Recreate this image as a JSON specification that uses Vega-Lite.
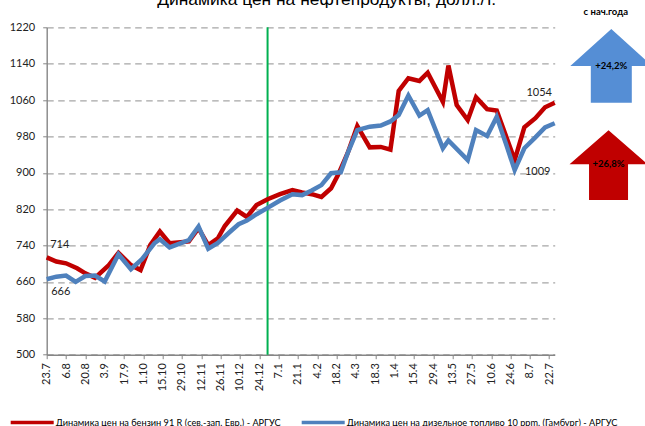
{
"$schema":"https://vega.github.io/schema/vega-lite/v6.json",
"width":508,"height":327.4,
"autosize":{"type":"none"},
"padding":{"left":46.7,"top":27.3,"right":90.3,"bottom":71.3},
"background":"white",
"config":{"view":{"stroke":null},"font":"Lato"},
"title":{"text":"Динамика цен на нефтепродукты, долл./т.","font":"Liberation Sans","fontSize":17.4,"fontWeight":"normal","color":"#000000","anchor":"middle","baseline":"alphabetic","dx":26,"offset":-16},
"datasets":{
"prices":[
{"date":"2018-07-23","series":"Динамика цен на бензин 91 R (сев.-зап. Евр.) - АРГУС","price":714},
{"date":"2018-07-30","series":"Динамика цен на бензин 91 R (сев.-зап. Евр.) - АРГУС","price":705},
{"date":"2018-08-06","series":"Динамика цен на бензин 91 R (сев.-зап. Евр.) - АРГУС","price":701},
{"date":"2018-08-14","series":"Динамика цен на бензин 91 R (сев.-зап. Евр.) - АРГУС","price":690},
{"date":"2018-08-20","series":"Динамика цен на бензин 91 R (сев.-зап. Евр.) - АРГУС","price":679},
{"date":"2018-08-27","series":"Динамика цен на бензин 91 R (сев.-зап. Евр.) - АРГУС","price":669},
{"date":"2018-09-06","series":"Динамика цен на бензин 91 R (сев.-зап. Евр.) - АРГУС","price":697},
{"date":"2018-09-13","series":"Динамика цен на бензин 91 R (сев.-зап. Евр.) - АРГУС","price":724},
{"date":"2018-09-22","series":"Динамика цен на бензин 91 R (сев.-зап. Евр.) - АРГУС","price":697},
{"date":"2018-09-29","series":"Динамика цен на бензин 91 R (сев.-зап. Евр.) - АРГУС","price":686},
{"date":"2018-10-06","series":"Динамика цен на бензин 91 R (сев.-зап. Евр.) - АРГУС","price":741},
{"date":"2018-10-13","series":"Динамика цен на бензин 91 R (сев.-зап. Евр.) - АРГУС","price":771},
{"date":"2018-10-20","series":"Динамика цен на бензин 91 R (сев.-зап. Евр.) - АРГУС","price":745},
{"date":"2018-11-03","series":"Динамика цен на бензин 91 R (сев.-зап. Евр.) - АРГУС","price":749},
{"date":"2018-11-10","series":"Динамика цен на бензин 91 R (сев.-зап. Евр.) - АРГУС","price":778},
{"date":"2018-11-17","series":"Динамика цен на бензин 91 R (сев.-зап. Евр.) - АРГУС","price":741},
{"date":"2018-11-24","series":"Динамика цен на бензин 91 R (сев.-зап. Евр.) - АРГУС","price":756},
{"date":"2018-11-29","series":"Динамика цен на бензин 91 R (сев.-зап. Евр.) - АРГУС","price":783},
{"date":"2018-12-08","series":"Динамика цен на бензин 91 R (сев.-зап. Евр.) - АРГУС","price":817},
{"date":"2018-12-15","series":"Динамика цен на бензин 91 R (сев.-зап. Евр.) - АРГУС","price":803},
{"date":"2018-12-22","series":"Динамика цен на бензин 91 R (сев.-зап. Евр.) - АРГУС","price":829},
{"date":"2018-12-30","series":"Динамика цен на бензин 91 R (сев.-зап. Евр.) - АРГУС","price":842},
{"date":"2019-01-08","series":"Динамика цен на бензин 91 R (сев.-зап. Евр.) - АРГУС","price":853},
{"date":"2019-01-17","series":"Динамика цен на бензин 91 R (сев.-зап. Евр.) - АРГУС","price":862},
{"date":"2019-01-24","series":"Динамика цен на бензин 91 R (сев.-зап. Евр.) - АРГУС","price":857},
{"date":"2019-01-31","series":"Динамика цен на бензин 91 R (сев.-зап. Евр.) - АРГУС","price":853},
{"date":"2019-02-07","series":"Динамика цен на бензин 91 R (сев.-зап. Евр.) - АРГУС","price":847},
{"date":"2019-02-14","series":"Динамика цен на бензин 91 R (сев.-зап. Евр.) - АРГУС","price":866},
{"date":"2019-02-19","series":"Динамика цен на бензин 91 R (сев.-зап. Евр.) - АРГУС","price":895},
{"date":"2019-02-26","series":"Динамика цен на бензин 91 R (сев.-зап. Евр.) - АРГУС","price":943},
{"date":"2019-03-05","series":"Динамика цен на бензин 91 R (сев.-зап. Евр.) - АРГУС","price":1003},
{"date":"2019-03-14","series":"Динамика цен на бензин 91 R (сев.-зап. Евр.) - АРГУС","price":956},
{"date":"2019-03-22","series":"Динамика цен на бензин 91 R (сев.-зап. Евр.) - АРГУС","price":957},
{"date":"2019-03-29","series":"Динамика цен на бензин 91 R (сев.-зап. Евр.) - АРГУС","price":951},
{"date":"2019-04-04","series":"Динамика цен на бензин 91 R (сев.-зап. Евр.) - АРГУС","price":1080},
{"date":"2019-04-11","series":"Динамика цен на бензин 91 R (сев.-зап. Евр.) - АРГУС","price":1108},
{"date":"2019-04-19","series":"Динамика цен на бензин 91 R (сев.-зап. Евр.) - АРГУС","price":1102},
{"date":"2019-04-25","series":"Динамика цен на бензин 91 R (сев.-зап. Евр.) - АРГУС","price":1120},
{"date":"2019-05-06","series":"Динамика цен на бензин 91 R (сев.-зап. Евр.) - АРГУС","price":1056},
{"date":"2019-05-10","series":"Динамика цен на бензин 91 R (сев.-зап. Евр.) - АРГУС","price":1136},
{"date":"2019-05-16","series":"Динамика цен на бензин 91 R (сев.-зап. Евр.) - АРГУС","price":1049},
{"date":"2019-05-24","series":"Динамика цен на бензин 91 R (сев.-зап. Евр.) - АРГУС","price":1016},
{"date":"2019-05-30","series":"Динамика цен на бензин 91 R (сев.-зап. Евр.) - АРГУС","price":1066},
{"date":"2019-06-07","series":"Динамика цен на бензин 91 R (сев.-зап. Евр.) - АРГУС","price":1040},
{"date":"2019-06-14","series":"Динамика цен на бензин 91 R (сев.-зап. Евр.) - АРГУС","price":1037},
{"date":"2019-06-27","series":"Динамика цен на бензин 91 R (сев.-зап. Евр.) - АРГУС","price":928},
{"date":"2019-07-04","series":"Динамика цен на бензин 91 R (сев.-зап. Евр.) - АРГУС","price":1000},
{"date":"2019-07-12","series":"Динамика цен на бензин 91 R (сев.-зап. Евр.) - АРГУС","price":1020},
{"date":"2019-07-19","series":"Динамика цен на бензин 91 R (сев.-зап. Евр.) - АРГУС","price":1044},
{"date":"2019-07-26","series":"Динамика цен на бензин 91 R (сев.-зап. Евр.) - АРГУС","price":1054},
{"date":"2018-07-23","series":"Динамика цен на дизельное топливо 10 ppm.  (Гамбург) - АРГУС","price":666},
{"date":"2018-07-30","series":"Динамика цен на дизельное топливо 10 ppm.  (Гамбург) - АРГУС","price":671.6},
{"date":"2018-08-06","series":"Динамика цен на дизельное топливо 10 ppm.  (Гамбург) - АРГУС","price":674},
{"date":"2018-08-13","series":"Динамика цен на дизельное топливо 10 ppm.  (Гамбург) - АРГУС","price":660},
{"date":"2018-08-20","series":"Динамика цен на дизельное топливо 10 ppm.  (Гамбург) - АРГУС","price":673},
{"date":"2018-08-27","series":"Динамика цен на дизельное топливо 10 ppm.  (Гамбург) - АРГУС","price":674},
{"date":"2018-09-03","series":"Динамика цен на дизельное топливо 10 ppm.  (Гамбург) - АРГУС","price":661},
{"date":"2018-09-13","series":"Динамика цен на дизельное топливо 10 ppm.  (Гамбург) - АРГУС","price":721},
{"date":"2018-09-22","series":"Динамика цен на дизельное топливо 10 ppm.  (Гамбург) - АРГУС","price":688},
{"date":"2018-09-30","series":"Динамика цен на дизельное топливо 10 ppm.  (Гамбург) - АРГУС","price":710},
{"date":"2018-10-09","series":"Динамика цен на дизельное топливо 10 ppm.  (Гамбург) - АРГУС","price":745},
{"date":"2018-10-13","series":"Динамика цен на дизельное топливо 10 ppm.  (Гамбург) - АРГУС","price":754},
{"date":"2018-10-20","series":"Динамика цен на дизельное топливо 10 ppm.  (Гамбург) - АРГУС","price":736},
{"date":"2018-11-03","series":"Динамика цен на дизельное топливо 10 ppm.  (Гамбург) - АРГУС","price":752},
{"date":"2018-11-10","series":"Динамика цен на дизельное топливо 10 ppm.  (Гамбург) - АРГУС","price":782},
{"date":"2018-11-17","series":"Динамика цен на дизельное топливо 10 ppm.  (Гамбург) - АРГУС","price":733},
{"date":"2018-11-24","series":"Динамика цен на дизельное топливо 10 ppm.  (Гамбург) - АРГУС","price":746},
{"date":"2018-12-03","series":"Динамика цен на дизельное топливо 10 ppm.  (Гамбург) - АРГУС","price":771},
{"date":"2018-12-09","series":"Динамика цен на дизельное топливо 10 ppm.  (Гамбург) - АРГУС","price":787},
{"date":"2018-12-15","series":"Динамика цен на дизельное топливо 10 ppm.  (Гамбург) - АРГУС","price":795},
{"date":"2018-12-22","series":"Динамика цен на дизельное топливо 10 ppm.  (Гамбург) - АРГУС","price":809},
{"date":"2018-12-30","series":"Динамика цен на дизельное топливо 10 ppm.  (Гамбург) - АРГУС","price":823},
{"date":"2019-01-08","series":"Динамика цен на дизельное топливо 10 ppm.  (Гамбург) - АРГУС","price":839},
{"date":"2019-01-17","series":"Динамика цен на дизельное топливо 10 ppm.  (Гамбург) - АРГУС","price":853},
{"date":"2019-01-24","series":"Динамика цен на дизельное топливо 10 ppm.  (Гамбург) - АРГУС","price":851},
{"date":"2019-01-31","series":"Динамика цен на дизельное топливо 10 ppm.  (Гамбург) - АРГУС","price":861},
{"date":"2019-02-07","series":"Динамика цен на дизельное топливо 10 ppm.  (Гамбург) - АРГУС","price":873},
{"date":"2019-02-14","series":"Динамика цен на дизельное топливо 10 ppm.  (Гамбург) - АРГУС","price":899},
{"date":"2019-02-21","series":"Динамика цен на дизельное топливо 10 ppm.  (Гамбург) - АРГУС","price":901},
{"date":"2019-02-26","series":"Динамика цен на дизельное топливо 10 ppm.  (Гамбург) - АРГУС","price":943},
{"date":"2019-03-05","series":"Динамика цен на дизельное топливо 10 ppm.  (Гамбург) - АРГУС","price":994},
{"date":"2019-03-14","series":"Динамика цен на дизельное топливо 10 ppm.  (Гамбург) - АРГУС","price":1001.5},
{"date":"2019-03-22","series":"Динамика цен на дизельное топливо 10 ppm.  (Гамбург) - АРГУС","price":1004},
{"date":"2019-03-29","series":"Динамика цен на дизельное топливо 10 ppm.  (Гамбург) - АРГУС","price":1013},
{"date":"2019-04-04","series":"Динамика цен на дизельное топливо 10 ppm.  (Гамбург) - АРГУС","price":1027},
{"date":"2019-04-11","series":"Динамика цен на дизельное топливо 10 ppm.  (Гамбург) - АРГУС","price":1070},
{"date":"2019-04-19","series":"Динамика цен на дизельное топливо 10 ppm.  (Гамбург) - АРГУС","price":1026},
{"date":"2019-04-25","series":"Динамика цен на дизельное топливо 10 ppm.  (Гамбург) - АРГУС","price":1038},
{"date":"2019-05-06","series":"Динамика цен на дизельное топливо 10 ppm.  (Гамбург) - АРГУС","price":954},
{"date":"2019-05-10","series":"Динамика цен на дизельное топливо 10 ppm.  (Гамбург) - АРГУС","price":971},
{"date":"2019-05-24","series":"Динамика цен на дизельное топливо 10 ppm.  (Гамбург) - АРГУС","price":928},
{"date":"2019-05-30","series":"Динамика цен на дизельное топливо 10 ppm.  (Гамбург) - АРГУС","price":994},
{"date":"2019-06-07","series":"Динамика цен на дизельное топливо 10 ppm.  (Гамбург) - АРГУС","price":981},
{"date":"2019-06-14","series":"Динамика цен на дизельное топливо 10 ppm.  (Гамбург) - АРГУС","price":1023},
{"date":"2019-06-21","series":"Динамика цен на дизельное топливо 10 ppm.  (Гамбург) - АРГУС","price":961},
{"date":"2019-06-27","series":"Динамика цен на дизельное топливо 10 ppm.  (Гамбург) - АРГУС","price":906},
{"date":"2019-07-04","series":"Динамика цен на дизельное топливо 10 ppm.  (Гамбург) - АРГУС","price":954},
{"date":"2019-07-12","series":"Динамика цен на дизельное топливо 10 ppm.  (Гамбург) - АРГУС","price":978},
{"date":"2019-07-19","series":"Динамика цен на дизельное топливо 10 ppm.  (Гамбург) - АРГУС","price":1000},
{"date":"2019-07-26","series":"Динамика цен на дизельное топливо 10 ppm.  (Гамбург) - АРГУС","price":1009}
],
"marker":[{"date":"2018-12-30"}],
"callouts":[
{"date":"2019-09-05","price":1135,"label":"+24,2%"},
{"date":"2019-09-03","price":919,"label":"+26,8%"},
{"date":"2019-09-01","price":1254,"label":"с нач.года"}
]
},
"encoding":{
"x":{"field":"date","type":"temporal","scale":{"type":"utc","domain":["2018-07-23","2019-07-26"]},
"axis":{"title":null,"format":"%-d.%-m","grid":false,"labelAngle":-90,"labelAlign":"right","labelBaseline":"middle","labelFontSize":11,"labelColor":"#222222","labelPadding":4,"labelOverlap":false,"tickColor":"#868686","tickSize":4,"tickWidth":1,"domainColor":"#868686","domainWidth":1.4,
"values":["2018-07-23","2018-08-06","2018-08-20","2018-09-03","2018-09-17","2018-10-01","2018-10-15","2018-10-29","2018-11-12","2018-11-26","2018-12-10","2018-12-24","2019-01-07","2019-01-21","2019-02-04","2019-02-18","2019-03-04","2019-03-18","2019-04-01","2019-04-15","2019-04-29","2019-05-13","2019-05-27","2019-06-10","2019-06-24","2019-07-08","2019-07-22"]}},
"y":{"field":"price","type":"quantitative","scale":{"domain":[500,1220],"nice":false,"zero":false},
"axis":{"title":null,"format":"d","values":[500,580,660,740,820,900,980,1060,1140,1220],"labelFontSize":11,"labelColor":"#222222","labelPadding":8,"tickColor":"#868686","tickSize":4,"domainColor":"#868686","domainWidth":1.4,"grid":true,"gridColor":"#A6A6A6","gridWidth":1.3,"gridDash":[6.5,4.5]}}
},
"layer":[
{"data":{"name":"marker"},"mark":{"type":"rule","color":"#00B050","strokeWidth":2},"encoding":{"y":{"value":0},"y2":{"value":327.4}}},
{"data":{"name":"prices"},"mark":{"type":"line","strokeWidth":4.5,"strokeJoin":"miter","strokeCap":"butt","clip":false},
"encoding":{"color":{"field":"series","type":"nominal","scale":{"range":["#C00000","#4F81BD"]},
"legend":{"title":null,"orient":"none","legendX":-38,"legendY":371.5,"direction":"horizontal","columns":2,"symbolType":"stroke","symbolSize":1850,"symbolStrokeWidth":3.5,"labelFontSize":9.2,"labelFont":"Lato","labelColor":"#000000","labelLimit":0,"labelOffset":0,"columnPadding":13,"padding":0}}}},
{"data":{"name":"prices"},"transform":[{"filter":"datum.price===714"}],"mark":{"type":"text","fontSize":11,"color":"#222222","dx":13,"dy":-12},"encoding":{"text":{"field":"price","type":"quantitative","format":"d"}}},
{"data":{"name":"prices"},"transform":[{"filter":"datum.price===666"}],"mark":{"type":"text","fontSize":11,"color":"#222222","dx":14,"dy":13},"encoding":{"text":{"field":"price","type":"quantitative","format":"d"}}},
{"data":{"name":"prices"},"transform":[{"filter":"datum.price===1054"}],"mark":{"type":"text","fontSize":11,"color":"#222222","dx":-15.5,"dy":-9.5},"encoding":{"text":{"field":"price","type":"quantitative","format":"d"}}},
{"data":{"name":"prices"},"transform":[{"filter":"datum.price===1009"}],"mark":{"type":"text","fontSize":11,"color":"#222222","dx":-17,"dy":49},"encoding":{"text":{"field":"price","type":"quantitative","format":"d"}}},
{"data":{"name":"callouts"},"transform":[{"filter":"datum.label==='+24,2%'"}],"mark":{"type":"point","filled":true,"opacity":1,"fill":"#558ED5","stroke":null,"size":6724,"shape":"M0,-0.9L1,0L0.5,0L0.5,0.9L-0.5,0.9L-0.5,0L-1,0Z"}},
{"data":{"name":"callouts"},"transform":[{"filter":"datum.label==='+26,8%'"}],"mark":{"type":"point","filled":true,"opacity":1,"fill":"#C00000","stroke":null,"size":6084,"shape":"M0,-0.87L1,0L0.5,0L0.5,0.92L-0.5,0.92L-0.5,0L-1,0Z"}},
{"data":{"name":"callouts"},"mark":{"type":"text","fontSize":9.5,"fontWeight":"bold","color":"#000000"},"encoding":{"text":{"field":"label","type":"nominal"}}}
]
}
